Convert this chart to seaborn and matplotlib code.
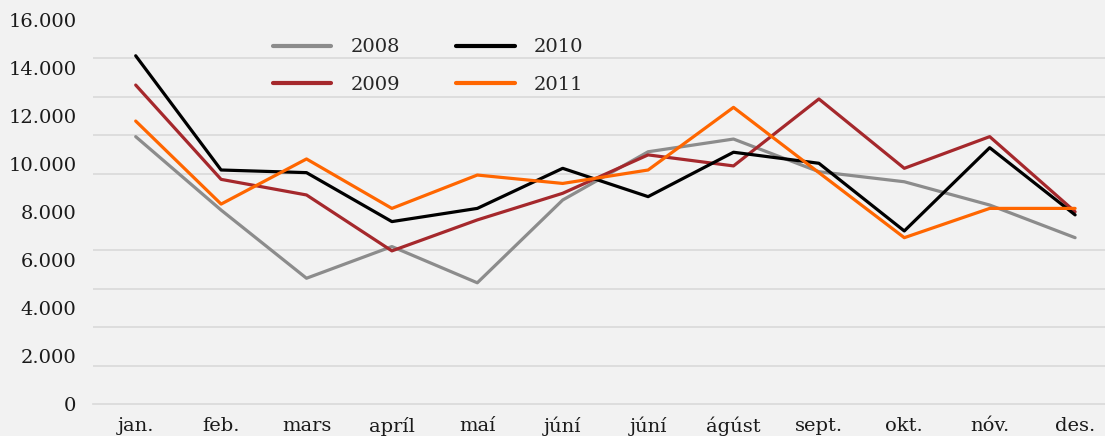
import numpy as np
import pandas as pd
import matplotlib
matplotlib.use("Agg")
import matplotlib.pyplot as plt
from matplotlib.ticker import FixedLocator, FuncFormatter, MultipleLocator
import seaborn as sns

months = ["jan.", "feb.", "mars", "apríl", "maí", "júní", "júní", "ágúst", "sept.", "okt.", "nóv.", "des."]
years = ["2008", "2009", "2010", "2011"]
v2008 = [11140, 8080, 5240, 6560, 5050, 8500, 10510, 11040, 9680, 9260, 8290, 6930]
v2009 = [13290, 9360, 8710, 6380, 7670, 8780, 10380, 9920, 12710, 9820, 11140, 8010]
v2010 = [14510, 9750, 9640, 7600, 8150, 9820, 8640, 10490, 10030, 7210, 10680, 7880]
v2011 = [11790, 8330, 10210, 8150, 9540, 9190, 9750, 12360, 9640, 6930, 8150, 8150]
colors = ["#8C8C8C", "#A5282C", "#000000", "#FF6600"]

df = pd.DataFrame({
    "pos": list(range(12)) * 4,
    "value": v2008 + v2009 + v2010 + v2011,
    "year": sum([[y] * 12 for y in years], []),
})

sns.set_theme(style="white")
plt.rcParams["font.family"] = ["DejaVu Serif"]

fig = plt.figure(figsize=(11.05, 4.36), dpi=100)
fig.patch.set_facecolor("#F2F2F2")
ax = fig.add_axes([93 / 1105, (436 - 404) / 436, 1 - 93 / 1105, (404 - 20) / 436])
ax.set_facecolor("#F2F2F2")

sns.lineplot(data=df, x="pos", y="value", hue="year", hue_order=years,
             palette=dict(zip(years, colors)), linewidth=2.3, ax=ax,
             legend=True, sort=False)

spacing = 85.4
ax.set_xlim(-0.5, -0.5 + (1105 - 93) / spacing)
ax.set_ylim(0, 16000)

# y axis: labels every 2000, gridlines every 1600
ax.yaxis.set_major_locator(MultipleLocator(2000))
ax.yaxis.set_major_formatter(FuncFormatter(lambda v, p: f"{v:,.0f}".replace(",", ".")))
ax.yaxis.set_minor_locator(FixedLocator(np.arange(0, 16001, 1600)))
ax.grid(False)
ax.grid(True, axis="y", which="minor", color="#D9D9D9", linewidth=1.2)
ax.tick_params(axis="y", which="both", length=0, pad=12, labelsize=14, colors="#1a1a1a")

# x axis
ax.set_xticks(range(12))
ax.set_xticklabels(months)
ax.xaxis.set_minor_locator(FixedLocator(np.arange(-0.5, 12, 1)))
ax.tick_params(axis="x", which="major", length=0, pad=9, labelsize=14, colors="#1a1a1a")
ax.tick_params(axis="x", which="minor", length=7, width=1.2, color="#D9D9D9", direction="out")

for s in ["top", "right", "left"]:
    ax.spines[s].set_visible(False)
ax.spines["bottom"].set_color("#D9D9D9")
ax.spines["bottom"].set_linewidth(1.2)
ax.set_xlabel("")
ax.set_ylabel("")

handles, labels = ax.get_legend_handles_labels()
for h in handles:
    h.set_linewidth(3)
    h.set_solid_capstyle("round")
ax.legend(handles, labels, ncol=2, loc="upper left",
          bbox_to_anchor=(255 / 1105, 1 - 21 / 436), bbox_transform=fig.transFigure,
          frameon=False, fontsize=14, handlelength=3.0, handletextpad=1.0,
          columnspacing=2.9, labelspacing=1.0)

fig.savefig("out.png", dpi=100, facecolor=fig.get_facecolor())
